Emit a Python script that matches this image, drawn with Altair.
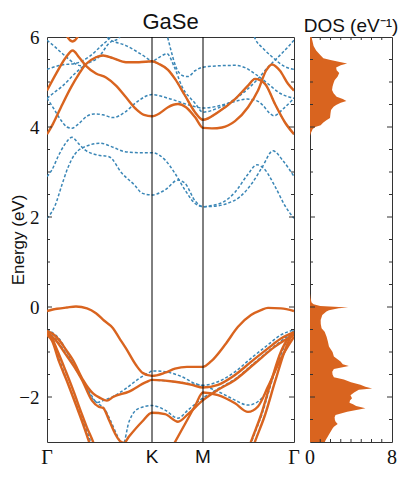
import altair as alt
import pandas as pd

# ---------------- k-path (path coordinate, arbitrary units) ----------------
KPATH_POS = [0, 105, 156, 247]
KPATH_LABELS = ["Γ", "K", "M", "Γ"]
KPATH_SERIF = [True, False, False, True]

# ---------------- orange (solid) bands: (k, E in eV) ----------------
O_COND_A = [(0, 4.81), (9, 5.18), (19, 5.55), (25.7, 5.70), (32, 5.55), (39, 5.36), (49, 5.19),
            (59, 5.10), (69, 4.92), (79, 4.66), (89, 4.40), (97, 4.27), (105, 4.24), (113, 4.31),
            (121, 4.44), (131, 4.51), (139, 4.44), (148, 4.22), (156, 3.98), (165, 3.97),
            (175, 3.99), (188, 4.13), (201, 4.44), (211, 4.81), (219, 5.25), (225, 5.39),
            (233, 5.25), (241, 4.96), (247, 4.81)]
O_COND_B = [(0, 3.84), (6, 4.07), (14, 4.44), (24, 4.88), (32, 5.18), (39, 5.40), (49, 5.55),
            (56, 5.59), (66, 5.53), (79, 5.44), (92, 5.44), (105, 5.46), (112, 5.40), (121, 5.27),
            (128, 5.07), (138, 4.70), (148, 4.33), (156, 4.16), (171, 4.33), (188, 4.62),
            (201, 4.92), (208, 5.07), (218, 4.96), (228, 4.51), (238, 4.10), (247, 3.84)]
O_COND_C = [(14, 6.4), (20, 6.02), (25.5, 5.90), (31, 6.02), (37, 6.4)]

O_VAL_1 = [(0, -0.09), (10, -0.04), (20, -0.01), (29, 0.01), (40, -0.03), (49, -0.14), (57, -0.30),
           (66, -0.47), (72, -0.68), (79, -0.92), (89, -1.29), (96, -1.47), (105, -1.53),
           (118, -1.46), (128, -1.37), (140, -1.33), (156, -1.33), (164, -1.21), (178, -0.84),
           (191, -0.44), (204, -0.18), (214, -0.07), (221, -0.02), (234, -0.03), (247, -0.09)]
O_VAL_2 = [(0, -0.53), (6, -0.60), (12, -0.73), (19, -0.95), (26, -1.18), (36, -1.62), (46, -1.92),
           (53, -2.02), (60, -2.08), (66, -2.00), (82, -1.88), (99, -1.67), (105, -1.62),
           (128, -1.66), (145, -1.73), (156, -1.79), (171, -1.73), (188, -1.51), (204, -1.22),
           (221, -0.92), (234, -0.70), (247, -0.56)]
O_VAL_3 = [(0, -0.58), (8, -0.72), (18, -1.03), (27, -1.32), (35, -1.62), (45, -2.08), (52, -2.22),
           (56, -2.24), (62, -2.51), (68, -2.81), (73, -2.98), (77, -3.02), (82, -2.88),
           (95, -2.55), (105, -2.35), (118, -2.38), (131, -2.55), (141, -2.38), (156, -2.07),
           (171, -1.84), (188, -1.62), (208, -1.25), (228, -0.88), (247, -0.62)]
O_VAL_4 = [(115, -3.5), (128, -3.0), (138, -2.6), (148, -2.2), (156, -1.90), (171, -1.96),
           (188, -2.14), (201, -2.33), (211, -2.21), (221, -1.77), (235, -1.10), (247, -0.66)]
O_VAL_5 = [(0, -0.62), (5, -0.75), (12, -1.21), (20, -1.65), (29, -2.18), (36, -2.60),
           (42, -2.99), (50, -3.5)]
O_VAL_6 = [(0, -0.58), (3, -0.62), (10, -0.95), (19, -1.44), (27, -1.90), (34, -2.33),
           (40, -2.68), (46, -2.99), (52, -3.4)]
O_VAL_7 = [(196, -3.5), (204, -2.99), (214, -2.40), (224, -1.66), (234, -0.99), (242, -0.68),
           (247, -0.59)]
O_VAL_8 = [(200, -3.5), (208, -2.99), (218, -2.40), (228, -1.66), (238, -0.96), (244, -0.66),
           (247, -0.59)]

# ---------------- blue (dashed) bands ----------------
B_COND_1 = [(0, 2.90), (5, 3.05), (11, 3.34), (18, 3.62), (25, 3.77), (32, 3.62), (38, 3.49),
            (50, 3.38), (62, 3.34), (75, 2.97), (88, 2.70), (95, 2.53), (105, 2.49), (118, 2.60),
            (131, 2.82), (138, 2.75), (148, 2.36), (156, 2.23), (168, 2.24), (180, 2.30),
            (193, 2.45), (205, 2.75), (215, 3.10), (226, 3.47), (236, 3.25), (247, 2.90)]
B_COND_2 = [(0, 1.97), (8, 2.25), (15, 2.72), (21, 3.10), (28, 3.40), (40, 3.58), (53, 3.64),
            (66, 3.55), (78, 3.45), (92, 3.43), (105, 3.43), (118, 3.27), (128, 2.97), (138, 2.60),
            (148, 2.30), (156, 2.23), (166, 2.26), (176, 2.33), (188, 2.55), (200, 2.92),
            (210, 3.16), (218, 3.05), (228, 2.68), (238, 2.25), (247, 1.97)]
B_COND_3 = [(0, 4.64), (7, 4.40), (14, 4.15), (20, 4.00), (25, 3.97), (31, 4.06), (40, 4.24),
            (47, 4.29), (56, 4.27), (66, 4.21), (78, 4.33), (90, 4.56), (105, 4.72), (121, 4.64),
            (142, 4.49), (156, 4.42), (170, 4.46), (185, 4.55), (200, 4.62), (210, 4.58),
            (216, 4.48), (222, 4.32), (227, 4.25), (236, 4.40), (247, 4.64)]
B_COND_4 = [(0, 5.93), (8, 5.78), (15, 5.64), (28, 5.41), (34, 5.36), (39, 5.40), (49, 5.55),
            (56, 5.59), (66, 5.53), (79, 5.44), (92, 5.44), (105, 5.46), (113, 5.56), (120, 5.63),
            (127, 5.35), (135, 4.90), (148, 4.53), (156, 4.33), (171, 4.42), (188, 4.62),
            (201, 4.85), (211, 5.07), (221, 5.33), (231, 5.55), (241, 5.78), (247, 5.93)]
B_COND_5 = [(50, 6.5), (57, 6.1), (62, 5.96), (79, 5.81), (96, 5.59), (105, 5.46), (112, 5.40),
            (121, 5.27), (128, 5.07), (138, 4.70), (148, 4.33), (156, 4.16), (171, 4.33),
            (188, 4.62), (201, 4.92), (208, 5.07), (218, 4.96), (228, 4.51), (238, 4.10),
            (247, 3.84)]
B_COND_6 = [(0, 5.28), (15, 5.38), (28, 5.41), (42, 5.56), (55, 5.82), (62, 5.96), (66, 6.08),
            (72, 6.4), (90, 6.8), (190, 6.8), (200, 6.4), (205, 6.15), (208, 5.97), (216, 5.75),
            (225, 5.56), (238, 5.34), (247, 5.28)]
B_COND_7 = [(0, 4.64), (8, 4.78), (15, 4.90), (28, 5.19), (38, 5.38), (52, 5.56), (62, 5.86),
            (72, 5.98), (78, 6.2), (90, 6.6), (100, 6.8)]
B_COND_8 = [(105, 6.8), (116, 6.3), (121, 5.96), (124, 5.70), (129, 5.33), (136, 5.14),
            (141, 5.12), (148, 5.25), (156, 5.33), (172, 5.36), (188, 5.37), (198, 5.32),
            (208, 5.18), (220, 4.98), (233, 4.75), (247, 4.64)]

B_VAL_1 = [(0, -0.50), (6, -0.58), (12, -0.70), (20, -1.00), (28, -1.35), (36, -1.65), (44, -1.95),
           (50, -2.12), (56, -2.08), (66, -1.99), (79, -1.81), (92, -1.59), (102, -1.46),
           (105, -1.42), (118, -1.44), (135, -1.55), (148, -1.70), (156, -1.75), (175, -1.92),
           (188, -2.07), (201, -2.18), (211, -2.10), (221, -1.81), (231, -1.22), (238, -0.84),
           (247, -0.52)]
B_VAL_2 = [(0, -0.55), (8, -0.70), (18, -1.00), (27, -1.30), (35, -1.58), (45, -2.02), (52, -2.16),
           (57, -2.25), (63, -2.50), (68, -2.75), (73, -2.98), (76, -3.05), (82, -2.55),
           (92, -2.25), (105, -2.19), (118, -2.29), (131, -2.47), (141, -2.29), (156, -2.02),
           (171, -1.82), (188, -1.60), (208, -1.23), (228, -0.86), (247, -0.55)]
B_VAL_3 = [(105, -1.62), (128, -1.66), (145, -1.71), (156, -1.74), (171, -1.66), (188, -1.44),
           (204, -1.14), (221, -0.84), (234, -0.62), (247, -0.51)]
B_VAL_4 = [(0, -0.55), (6, -0.72), (13, -1.20), (21, -1.70), (30, -2.20), (37, -2.60),
           (43, -2.95), (50, -3.5)]
B_VAL_5 = [(197, -3.5), (205, -2.97), (215, -2.38), (225, -1.64), (235, -0.97), (242, -0.66),
           (247, -0.55)]

# ---------------- density of states (eV^-1) ----------------
DOS_E = [-3.0, -2.96, -2.81, -2.70, -2.66, -2.60, -2.55, -2.51, -2.45, -2.40,
         -2.33, -2.25, -2.20, -2.16, -2.13, -2.08, -2.03, -1.96, -1.90, -1.84,
         -1.81, -1.77, -1.73, -1.67, -1.61, -1.56, -1.50, -1.44, -1.38, -1.31,
         -1.27, -1.21, -1.10, -1.00, -0.88, -0.77, -0.66, -0.55, -0.47, -0.38,
         -0.29, -0.18, -0.10, -0.07, -0.03, -0.01, 0.02, 0.06, 0.10, 0.20,
         0.30, 3.80, 3.86, 3.92, 3.95, 4.00, 4.04, 4.10, 4.15, 4.20,
         4.30, 4.38, 4.45, 4.49, 4.54, 4.58, 4.62, 4.67, 4.75, 4.82,
         4.90, 4.98, 5.04, 5.12, 5.20, 5.26, 5.32, 5.37, 5.41, 5.45,
         5.49, 5.53, 5.60, 5.70, 5.80, 5.90, 6.00]
DOS_V = [1.45, 1.52, 1.91, 2.2, 2.33, 2.7, 2.5, 2.43, 2.4, 2.49,
         3.63, 5.41, 4.5, 4.2, 3.85, 3.9, 4.1, 3.95, 4.3, 4.76,
         6.06, 5.4, 4.92, 4.0, 3.3, 2.33, 2.2, 2.17, 2.33, 3.79,
         3.2, 2.98, 2.33, 2.2, 1.85, 1.75, 1.62, 1.43, 1.13, 1.05,
         1.04, 1.2, 1.6, 1.85, 2.8, 3.72, 1.0, 0.35, 0.15, 0.05,
         0.0, 0.0, 0.08, 0.2, 0.25, 0.5, 1.04, 1.3, 1.6, 1.95,
         2.0, 2.05, 2.3, 2.55, 3.0, 3.55, 3.2, 2.6, 2.3, 2.15,
         2.2, 2.3, 2.4, 2.7, 2.85, 2.6, 2.55, 3.0, 3.62, 2.8,
         2.0, 1.3, 1.0, 0.6, 0.35, 0.25, 0.15]

# ---------------- tick positions ----------------
Y_MAJOR = [-2, 0, 2, 4]
Y_MINOR = [-2.5, -1.5, -1, -0.5, 0.5, 1, 1.5, 2.5, 3, 3.5, 4.5, 5, 5.5]
Y_LABELS = [-2, 0, 2, 4, 6]
DOS_XTICKS = [1, 2, 3, 4, 5, 6, 7]
DOS_XLABELS = [0, 8]

ORANGE_BANDS = {"oa": O_COND_A, "ob": O_COND_B, "oc": O_COND_C, "v1": O_VAL_1, "v2": O_VAL_2,
                "v3": O_VAL_3, "v4": O_VAL_4, "v5": O_VAL_5, "v6": O_VAL_6, "v7": O_VAL_7,
                "v8": O_VAL_8}
BLUE_BANDS = {"c1": B_COND_1, "c2": B_COND_2, "c3": B_COND_3, "c4": B_COND_4, "c5": B_COND_5,
              "c6": B_COND_6, "c7": B_COND_7, "c8": B_COND_8, "w1": B_VAL_1, "w2": B_VAL_2,
              "w3": B_VAL_3, "w4": B_VAL_4, "w5": B_VAL_5}


def to_rows(bands):
    out = []
    for name, pts in bands.items():
        for k, e in pts:
            out.append({"k": k, "E": e, "band": name})
    return pd.DataFrame(out)


orange_df = to_rows(ORANGE_BANDS)
blue_df = to_rows(BLUE_BANDS)

W1, W2, H = 247, 82, 405
ORANGE = "#D9641F"
BLUE = "#3A86B6"
FRAME = "#333333"
TXT = "#111111"

xs = alt.Scale(domain=[0, 247], nice=False, zero=False)
ys = alt.Scale(domain=[-3, 6], nice=False, zero=False)
dxs = alt.Scale(domain=[0, 8], nice=False, zero=False)

yaxis = alt.Axis(values=Y_LABELS, title="Energy (eV)", ticks=False, domain=False, grid=False,
                 labelFont="Liberation Serif", labelFontSize=19, labelColor=TXT, labelPadding=8,
                 titleFont="Liberation Sans", titleFontSize=17, titleFontWeight="normal",
                 titleColor=TXT, titleX=-20, titleY=H / 2, titleAngle=270, titleAlign="center",
                 titleBaseline="bottom")

blue_layer = alt.Chart(blue_df).mark_line(
    color=BLUE, strokeWidth=1.5, strokeDash=[3, 2], interpolate="monotone", clip=True
).encode(x=alt.X("k:Q", scale=xs, axis=None), y=alt.Y("E:Q", scale=ys, axis=yaxis),
         detail="band:N")

orange_layer = alt.Chart(orange_df).mark_line(
    color=ORANGE, strokeWidth=2.4, interpolate="monotone", clip=True
).encode(x=alt.X("k:Q", scale=xs, axis=None), y=alt.Y("E:Q", scale=ys, axis=yaxis),
         detail="band:N")

sym_df = pd.DataFrame({"k": KPATH_POS[1:3]})
vlines = alt.Chart(sym_df).mark_rule(color="black", strokeWidth=1).encode(
    x=alt.X("k:Q", scale=xs, axis=None))


def yticks(values, length, width_px, axis):
    d = pd.DataFrame({"v": values})
    base = alt.Chart(d).mark_rule(color=FRAME, strokeWidth=1)
    left = base.encode(y=alt.Y("v:Q", scale=ys, axis=axis), x=alt.value(0), x2=alt.value(length))
    right = base.encode(y=alt.Y("v:Q", scale=ys, axis=axis), x=alt.value(width_px - length),
                        x2=alt.value(width_px))
    return [left, right]


lab_df = pd.DataFrame({"k": KPATH_POS, "label": KPATH_LABELS, "serif": KPATH_SERIF})
serif_labels = alt.Chart(lab_df[lab_df["serif"]]).mark_text(
    font="Liberation Serif", fontSize=20, baseline="top", color=TXT
).encode(x=alt.X("k:Q", scale=xs, axis=None), y=alt.value(H + 6), text="label:N")
sans_labels = alt.Chart(lab_df[~lab_df["serif"]]).mark_text(
    font="Liberation Sans", fontSize=19, baseline="top", color=TXT
).encode(x=alt.X("k:Q", scale=xs, axis=None), y=alt.value(H + 6), text="label:N")

left = alt.layer(
    blue_layer, orange_layer, vlines,
    *yticks(Y_MAJOR, 5, W1, yaxis), *yticks(Y_MINOR, 3, W1, yaxis),
    serif_labels, sans_labels,
).properties(
    width=W1, height=H,
    title=alt.TitleParams("GaSe", font="Liberation Sans", fontSize=22, fontWeight="normal",
                          color=TXT, anchor="middle", offset=-6),
)

# ---------------- DOS panel ----------------
dos_df = pd.DataFrame({"E": DOS_E, "dos": DOS_V})
area = alt.Chart(dos_df).mark_area(orient="horizontal", color=ORANGE, clip=True).encode(
    x=alt.X("dos:Q", scale=dxs, axis=None), y=alt.Y("E:Q", scale=ys, axis=None))

dxt = pd.DataFrame({"d": DOS_XTICKS})
xt_base = alt.Chart(dxt).mark_rule(color=FRAME, strokeWidth=1)
xt_bottom = xt_base.encode(x=alt.X("d:Q", scale=dxs, axis=None), y=alt.value(H - 3),
                           y2=alt.value(H))
xt_top = xt_base.encode(x=alt.X("d:Q", scale=dxs, axis=None), y=alt.value(0), y2=alt.value(3))

dlab = pd.DataFrame({"d": DOS_XLABELS, "t": [str(v) for v in DOS_XLABELS]})
dos_labels = alt.Chart(dlab).mark_text(
    font="Liberation Serif", fontSize=20, baseline="top", color=TXT
).encode(x=alt.X("d:Q", scale=dxs, axis=None), y=alt.value(H + 6), text="t:N")

right = alt.layer(
    area, xt_bottom, xt_top, *yticks(Y_MAJOR, 5, W2, None), *yticks(Y_MINOR, 3, W2, None),
    dos_labels
).properties(
    width=W2, height=H,
    title=alt.TitleParams("DOS (eV⁻¹)", font="Liberation Sans", fontSize=19, fontWeight="normal",
                          color=TXT, anchor="middle", offset=1),
)

chart = alt.hconcat(left, right, spacing=16, bounds="flush").properties(
    padding={"left": 0, "top": 2, "right": 0, "bottom": 0}
).configure_view(stroke=FRAME, strokeWidth=1)

chart.save("out.html", embed_options={"renderer": "svg", "actions": False})
